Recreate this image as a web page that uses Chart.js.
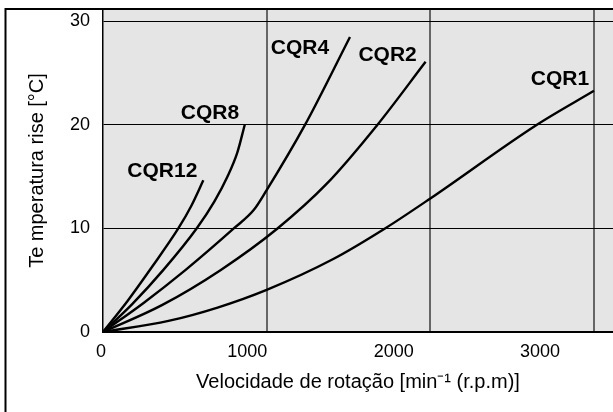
<!DOCTYPE html>
<html><head><meta charset="utf-8">
<script src="https://cdn.jsdelivr.net/npm/chart.js@4/dist/chart.umd.min.js"></script>
<style>html,body{margin:0;padding:0;background:#fff}#wrap{width:613px;height:412px}</style>
</head><body><div id="wrap"><canvas id="c" width="613" height="412"></canvas></div>
<script>
// ---- data (speed in min-1, temperature rise in °C) ----
const seriesNames = ['CQR12', 'CQR8', 'CQR4', 'CQR2', 'CQR1'];
const cqr12Speed = [0, 150, 300, 460, 540, 613];
const cqr12Temp  = [0, 3.0, 6.3, 10, 12.2, 14.65];
const cqr8Speed  = [0, 180, 369, 572, 680, 760, 820, 867];
const cqr8Temp   = [0, 2.72, 6.0, 10, 12.6, 15.0, 17.3, 20.07];
const cqr4Speed  = [0, 250, 505, 799, 922, 1000, 1234, 1509];
const cqr4Temp   = [0, 2.83, 6.0, 10, 11.8, 13.7, 20, 28.5];
const cqr2Speed  = [0, 360, 720, 1066, 1366, 1676, 1971];
const cqr2Temp   = [0, 2.6, 6.0, 10, 14.3, 20, 26.1];
const cqr1Speed  = [0, 400, 700, 1000, 1401, 1723, 2000, 2649, 3000];
const cqr1Temp   = [0, 1.07, 2.36, 4.07, 7.0, 10, 12.9, 20, 23.3];
const xTickLabels = [0, 1000, 2000, 3000];
const xGridValues = [1000, 2000, 3000];
const yTickValues = [0, 10, 20, 30];

// ---- layout / style (not data) ----
const FONT = '"Liberation Sans", Arial, Helvetica, sans-serif';
const labelOffsets = [[-41, -9], [-35, -11], [-50, 11], [-38, -7], [-34, -12]];

const speeds = [cqr12Speed, cqr8Speed, cqr4Speed, cqr2Speed, cqr1Speed];
const temps  = [cqr12Temp, cqr8Temp, cqr4Temp, cqr2Temp, cqr1Temp];

const datasets = seriesNames.map((name, k) => ({
  label: name,
  data: speeds[k].map((s, i) => ({x: s, y: temps[k][i]})),
  xAxisID: 'xg', yAxisID: 'y',
  borderColor: '#000', borderWidth: 2.4, pointRadius: 0,
  showLine: true, fill: false, cubicInterpolationMode: 'monotone'
}));

const bgPlugin = {
  id: 'bg',
  beforeDraw(chart) {
    const {ctx, chartArea: a} = chart;
    ctx.save();
    ctx.fillStyle = '#fff';
    ctx.fillRect(0, 0, chart.width, chart.height);
    ctx.fillStyle = '#e5e5e5';
    ctx.fillRect(a.left, a.top, a.right - a.left, a.bottom - a.top);
    ctx.restore();
  }
};

const labelPlugin = {
  id: 'curveLabels',
  afterDatasetsDraw(chart) {
    const {ctx} = chart;
    const xs = chart.scales.xg, ys = chart.scales.y;
    ctx.save();
    ctx.font = 'bold 21px ' + FONT;
    ctx.fillStyle = '#000';
    ctx.textAlign = 'center';
    ctx.textBaseline = 'middle';
    seriesNames.forEach((name, k) => {
      const n = speeds[k].length - 1;
      const px = xs.getPixelForValue(speeds[k][n]);
      const py = ys.getPixelForValue(temps[k][n]);
      ctx.fillText(name, px + labelOffsets[k][0], py + labelOffsets[k][1]);
    });
    ctx.restore();
  },
  afterDraw(chart) {
    const {ctx} = chart;
    ctx.save();
    ctx.strokeStyle = '#000';
    ctx.lineWidth = 2;
    ctx.strokeRect(5.5, 9, 700, 500);
    ctx.restore();
  }
};

new Chart(document.getElementById('c'), {
  type: 'scatter',
  data: {datasets},
  plugins: [bgPlugin, labelPlugin],
  options: {
    responsive: false, animation: false,
    layout: {padding: {top: 9, left: 0, right: 0, bottom: 0}},
    plugins: {legend: {display: false}, tooltip: {enabled: false}},
    scales: {
      x: {
        type: 'linear', position: 'bottom', min: 13.7, max: 3499,
        afterBuildTicks: s => { s.ticks = xTickLabels.map(v => ({value: v})); },
        afterFit: s => { s.height = 80; s.paddingLeft = 0; s.paddingRight = 0; },
        grid: {display: false, drawTicks: false},
        border: {display: true, color: '#000', width: 2},
        ticks: {color: '#000', font: {family: FONT, size: 18}, padding: 9, maxRotation: 0, autoSkip: false,
                callback: v => String(v)},
        title: {display: true, text: 'Velocidade de rotação [min⁻¹ (r.p.m)]', color: '#000',
                font: {family: FONT, size: 20}, padding: {top: 0, bottom: 17.5}}
      },
      xg: {
        type: 'linear', position: 'bottom', min: 0, max: 3116,
        afterBuildTicks: s => { s.ticks = xGridValues.map(v => ({value: v})); },
        afterFit: s => { s.height = 0; s.paddingLeft = 0; s.paddingRight = 0; },
        ticks: {display: false},
        grid: {color: '#666', lineWidth: 2, drawTicks: false},
        border: {display: false}
      },
      y: {
        type: 'linear', position: 'left', min: 0, max: 31.2,
        afterBuildTicks: s => { s.ticks = yTickValues.map(v => ({value: v})); },
        afterFit: s => { s.width = 103; s.paddingTop = 0; s.paddingBottom = 0; },
        grid: {color: c => c.tick && c.tick.value === 0 ? 'rgba(0,0,0,0)' : '#000', lineWidth: 1, drawTicks: false},
        border: {display: true, color: '#000', width: 1.5},
        ticks: {color: '#000', font: {family: FONT, size: 18}, padding: 13, callback: v => String(v)},
        title: {display: true, text: 'Te mperatura rise [°C]', color: '#000',
                font: {family: FONT, size: 20}, padding: {top: 25, bottom: 0}}
      }
    }
  }
});
</script></body></html>
